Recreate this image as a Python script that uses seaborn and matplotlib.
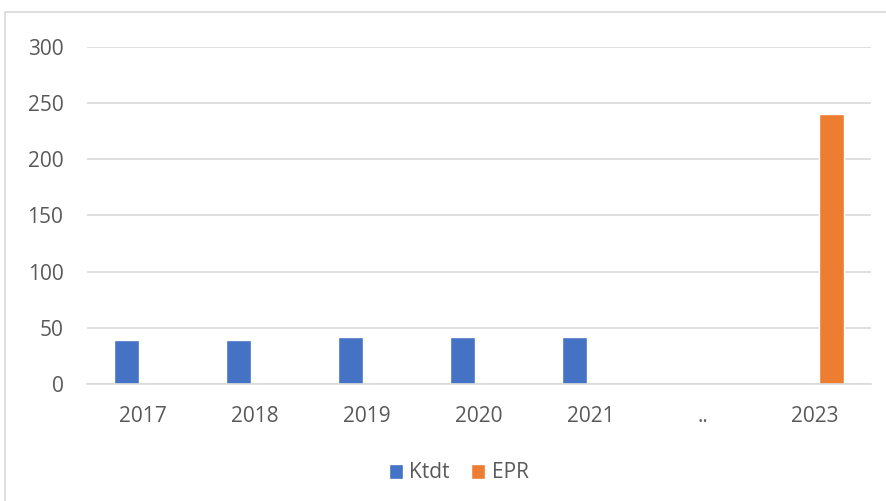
import matplotlib
matplotlib.use("Agg")
import matplotlib.pyplot as plt
import seaborn as sns
import pandas as pd
from matplotlib.patches import Rectangle

categories = ["2017", "2018", "2019", "2020", "2021", "..", "2023"]
series_names = ["Ktdt", "EPR"]
ktdt_years = ["2017", "2018", "2019", "2020", "2021"]
ktdt_values = [39, 39, 42, 41.5, 42]
epr_years = ["2023"]
epr_values = [240]
y_ticks = [0, 50, 100, 150, 200, 250, 300]

rows = [{"year": y, "series": "Ktdt", "value": v} for y, v in zip(ktdt_years, ktdt_values)]
rows += [{"year": y, "series": "EPR", "value": v} for y, v in zip(epr_years, epr_values)]
df = pd.DataFrame(rows)

sns.set_theme(style="white")
plt.rcParams["font.family"] = ["Open Sans", "DejaVu Sans"]

fig = plt.figure(figsize=(8.87, 5.01), dpi=100)
ax = fig.add_axes([87 / 887, (501 - 384) / 501, (871 - 87) / 887, (384 - 46.7) / 501])

palette = {"Ktdt": "#4472C4", "EPR": "#ED7D31"}
sns.barplot(data=df, x="year", y="value", hue="series", order=categories,
            hue_order=series_names, palette=palette, width=0.6, gap=0.25,
            dodge=True, saturation=1, ax=ax, legend=True)

ax.set_ylim(0, 300)
ax.set_yticks(y_ticks)
ax.set_xlim(-0.5, len(categories) - 0.5)
ax.yaxis.grid(True, color="#d9d9d9", linewidth=1.2)
ax.set_axisbelow(True)
for s in ["left", "right", "top"]:
    ax.spines[s].set_visible(False)
ax.spines["bottom"].set_color("#d9d9d9")
ax.spines["bottom"].set_linewidth(1.2)
ax.tick_params(axis="y", length=0, pad=17, labelsize=15, labelcolor="#595959")
ax.tick_params(axis="x", length=0, pad=16, labelsize=15, labelcolor="#595959")
ax.set_xlabel("")
ax.set_ylabel("")

leg = ax.get_legend()
handles = leg.legend_handles
leg.remove()
fig.legend(handles, series_names, loc="center", bbox_to_anchor=(458.5 / 887, 1 - 473 / 501),
           ncol=2, frameon=False, fontsize=15, handlelength=0.7, handleheight=0.75,
           handletextpad=0.3, columnspacing=1.0, labelcolor="#595959")

fig.patches.append(Rectangle((5 / 887, -0.05), 1.1, 1 - 12 / 501 + 0.05,
                             transform=fig.transFigure, fill=False,
                             edgecolor="#d9d9d9", linewidth=1.2))

fig.savefig("out.png", dpi=100)
